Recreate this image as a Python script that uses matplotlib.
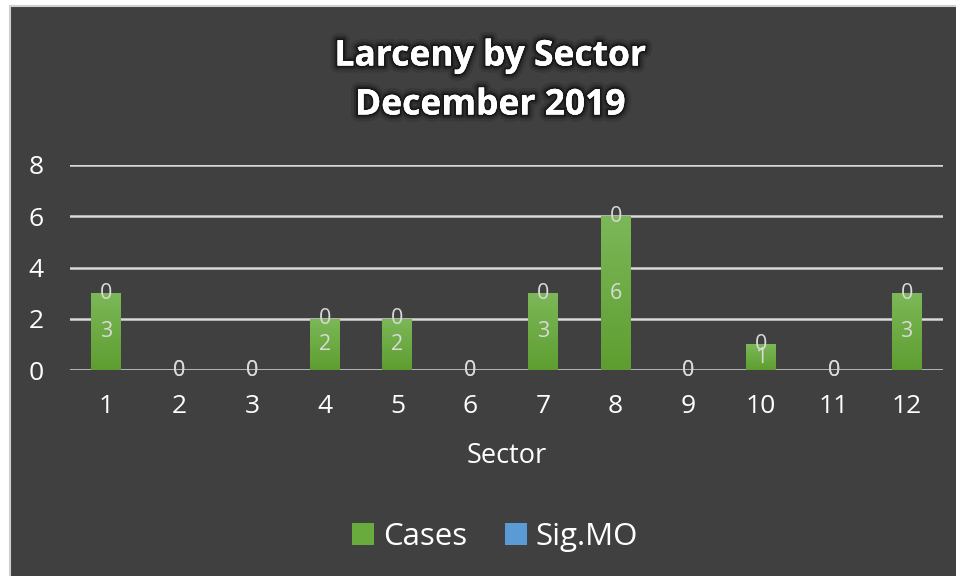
import numpy as np
import matplotlib.pyplot as plt
from matplotlib.patches import Rectangle, Patch
from matplotlib.colors import LinearSegmentedColormap
import matplotlib.patheffects as pe

# data
sectors = ['1', '2', '3', '4', '5', '6', '7', '8', '9', '10', '11', '12']
cases = [3, 0, 0, 2, 2, 0, 3, 6, 0, 1, 0, 3]
sig_mo = [0, 0, 0, 0, 0, 0, 0, 0, 0, 0, 0, 0]
y_ticks = [0, 2, 4, 6, 8]

plt.rcParams['font.family'] = ['Open Sans', 'DejaVu Sans']

bg = '#404040'
txt = '#ffffff'
lbl = '#d9d9d9'
green = '#6aab3e'
blue = '#5b9bd5'

fig = plt.figure(figsize=(9.56, 5.76), dpi=100, facecolor='white')
# dark chart panel with thin light border (only left/top visible)
panel = Rectangle((10 / 956, -0.05), 1.1, 1.05 - 6 / 576, transform=fig.transFigure,
                  facecolor=bg, edgecolor='#cfcfcf', linewidth=1.5, zorder=-10)
fig.add_artist(panel)

ax = fig.add_axes([70 / 956, 1 - 370 / 576, (943 - 70) / 956, (370 - 165) / 576])
ax.set_facecolor('none')

x = np.arange(1, len(sectors) + 1)
bars_c = ax.bar(x, cases, width=0.41, color=green, zorder=3)
bars_s = ax.bar(x, sig_mo, width=0.41, bottom=cases, color=blue, zorder=3)

# vertical gradient on the green bars
grad = np.linspace(0, 1, 256).reshape(-1, 1)
cmap = LinearSegmentedColormap.from_list('g', ['#5e9e30', '#7cb858'])
for b in bars_c:
    if b.get_height() > 0:
        x0, w, h = b.get_x(), b.get_width(), b.get_height()
        im = ax.imshow(grad, cmap=cmap, aspect='auto', origin='lower',
                       extent=(x0, x0 + w, 0, h), zorder=3.5)
        im.set_clip_path(b)

# data labels
for xi, c, s in zip(x, cases, sig_mo):
    ax.text(xi, c / 2, str(c), ha='center', va='center', color=lbl, fontsize=15.5, zorder=5)
    ax.text(xi, c + s / 2, str(s), ha='center', va='center', color=lbl, fontsize=15.5, zorder=5)

ax.set_xlim(0.5, len(sectors) + 0.5)
ax.set_ylim(0, 8)
ax.set_xticks(x)
ax.set_xticklabels(sectors)
ax.set_yticks(y_ticks)
ax.yaxis.grid(True, color='#d9d9d9', linewidth=1.8, zorder=1)
ax.set_axisbelow(True)
ax.tick_params(axis='both', length=0, colors=txt, labelsize=19)
ax.tick_params(axis='x', pad=17)
ax.tick_params(axis='y', pad=19)
for sp in ax.spines.values():
    sp.set_visible(False)

ax.set_xlabel('Sector', color=txt, fontsize=19.5, labelpad=17)

glow = [pe.withStroke(linewidth=10, foreground='black', alpha=0.12),
        pe.withStroke(linewidth=6, foreground='black', alpha=0.22),
        pe.withStroke(linewidth=3, foreground='black', alpha=0.4),
        pe.Normal()]
fig.text(490 / 956, 1 - 81 / 576, 'Larceny by Sector\nDecember 2019', ha='center', va='center',
         color=txt, fontsize=25.5, fontweight='bold', linespacing=1.48, path_effects=glow)

handles = [Patch(facecolor=green, label='Cases'), Patch(facecolor=blue, label='Sig.MO')]
fig.legend(handles=handles, loc='center', bbox_to_anchor=(495 / 956, 1 - 537 / 576), ncol=2,
           frameon=False, fontsize=22.5, labelcolor=txt, handlelength=0.7, handleheight=0.7,
           handletextpad=0.3, columnspacing=1.2)

fig.savefig('out.png', dpi=100, facecolor=fig.get_facecolor())
